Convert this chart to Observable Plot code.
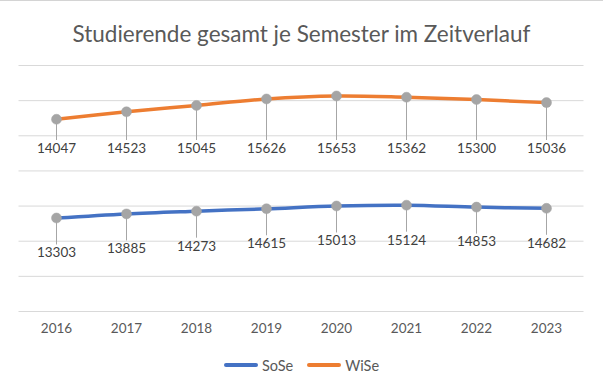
<!DOCTYPE html>
<html>
<head>
<meta charset="utf-8">
<script src="https://cdn.jsdelivr.net/npm/d3@7"></script>
<script src="https://cdn.jsdelivr.net/npm/@observablehq/plot@0.6"></script>
<style>
  html, body { margin: 0; padding: 0; background: #fff; }
  body { width: 603px; height: 386px; overflow: hidden; font-family: Lato, "Open Sans", sans-serif; border-top: 1px solid #d4d4d4; box-sizing: border-box; }
  #title { height: 49px; padding-top: 19px; box-sizing: border-box; text-align: center; font-size: 22.5px; line-height: 28px; color: #595959; }
  #legend { height: 40px; display: flex; justify-content: center; align-items: center; gap: 0; font-size: 14.5px; color: #595959; padding-bottom: 4px; box-sizing: border-box; }
  .item { display: flex; align-items: center; margin: 0 7px; }
  .sw { width: 34px; height: 4px; border-radius: 2px; margin-right: 4px; }
</style>
</head>
<body>
<div id="title">Studierende gesamt je Semester im Zeitverlauf</div>
<div id="chart"></div>
<div id="legend"></div>
<script>
const years = ["2016", "2017", "2018", "2019", "2020", "2021", "2022", "2023"];
const sose  = [13303, 13885, 14273, 14615, 15013, 15124, 14853, 14682];
const wise  = [14047, 14523, 15045, 15626, 15653, 15362, 15300, 15036];
const gridTicks = [0, 5000, 10000, 15000, 20000, 25000, 30000, 35000];
const seriesNames = ["SoSe", "WiSe"];
const colors = ["#4472C4", "#ED7D31"];

// stacked line chart: WiSe drawn on top of SoSe
const rows = years.map((y, i) => ({year: y, sose: sose[i], wise: wise[i], total: sose[i] + wise[i]}));

const chart = Plot.plot({
  width: 603,
  height: 297,
  marginTop: 15,
  marginBottom: 36,
  marginLeft: 18.5,
  marginRight: 19.5,
  style: {fontFamily: "Lato, 'Open Sans', sans-serif", fontSize: "13.5px", color: "#595959", background: "#fff"},
  x: {type: "point", domain: years, padding: 0.5, label: null},
  y: {domain: [0, 35000], axis: null},
  marks: [
    Plot.gridY(gridTicks, {stroke: "#d9d9d9", strokeOpacity: 1, strokeWidth: 1}),
    Plot.axisX({tickSize: 0, tickPadding: 12, fontSize: 13.5, label: null}),
    // leader lines
    Plot.ruleX(rows, {x: "year", y1: 0, y2: "total", insetTop: -171, stroke: "#a6a6a6", strokeWidth: 1}),
    Plot.ruleX(rows, {x: "year", y1: "sose", y2: "sose", insetBottom: -27, stroke: "#a6a6a6", strokeWidth: 1}),
    // lines
    Plot.line(rows, {x: "year", y: "sose", stroke: colors[0], strokeWidth: 3.5, curve: "catmull-rom"}),
    Plot.line(rows, {x: "year", y: "total", stroke: colors[1], strokeWidth: 3.5, curve: "catmull-rom"}),
    // markers
    Plot.dot(rows, {x: "year", y: "sose", r: 5, fill: "#a5a5a5", stroke: "#a5a5a5", strokeWidth: 0.5}),
    Plot.dot(rows, {x: "year", y: "total", r: 5, fill: "#a5a5a5", stroke: "#a5a5a5", strokeWidth: 0.5}),
    // data labels
    Plot.text(rows, {x: "year", frameAnchor: "top", dy: 83, text: d => String(d.wise), fill: "#404040", fontSize: 13.5, lineAnchor: "middle"}),
    Plot.text(rows, {x: "year", y: "sose", dy: 35, text: d => String(d.sose), fill: "#404040", fontSize: 13.5, lineAnchor: "middle"})
  ]
});
document.getElementById("chart").appendChild(chart);

const legend = document.getElementById("legend");
seriesNames.forEach((name, i) => {
  const item = document.createElement("div");
  item.className = "item";
  const sw = document.createElement("div");
  sw.className = "sw";
  sw.style.background = colors[i];
  const label = document.createElement("span");
  label.textContent = name;
  item.appendChild(sw);
  item.appendChild(label);
  legend.appendChild(item);
});
</script>
</body>
</html>
